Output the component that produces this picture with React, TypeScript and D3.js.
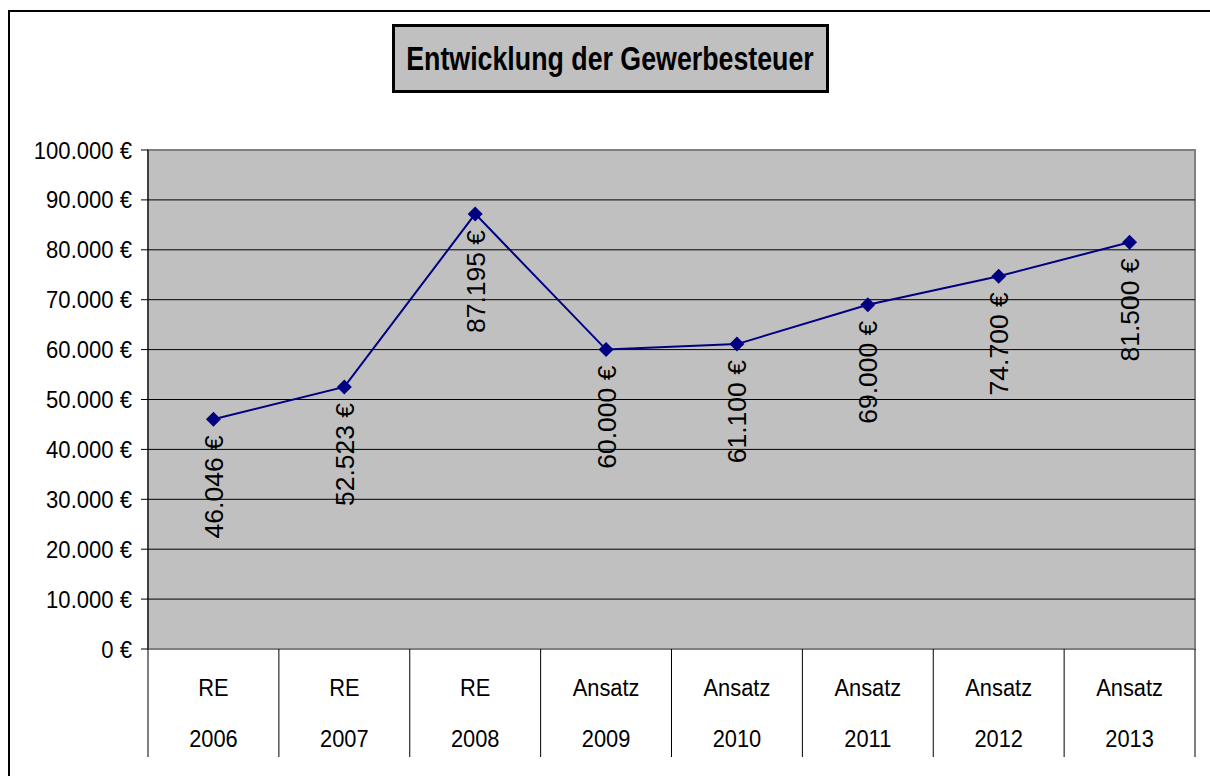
import React from "react";
import * as d3 from "d3";

const categoriesTop = ["RE", "RE", "RE", "Ansatz", "Ansatz", "Ansatz", "Ansatz", "Ansatz"];
const categoriesYear = ["2006", "2007", "2008", "2009", "2010", "2011", "2012", "2013"];
const values = [46046, 52523, 87195, 60000, 61100, 69000, 74700, 81500];
const yTicks = [0, 10000, 20000, 30000, 40000, 50000, 60000, 70000, 80000, 90000, 100000];
const titleText = "Entwicklung der Gewerbesteuer";

const W = 1210;
const H = 776;
const plot = { left: 148, right: 1195, top: 150, bottom: 649 };
const FONT = "'Liberation Sans', Arial, Helvetica, sans-serif";
const NAVY = "#000080";

const de = d3.formatLocale({ decimal: ",", thousands: ".", grouping: [3], currency: ["", " €"] });
const fmt = (v: number) => de.format(",.0f")(v) + " €";

export default function App() {
  const keys = categoriesYear.map((y, i) => `${categoriesTop[i]} ${y}`);
  const x = d3.scaleBand<string>().domain(keys).range([plot.left, plot.right]).padding(0);
  const y = d3.scaleLinear().domain([0, 100000]).range([plot.bottom, plot.top]);
  const cx = (i: number) => (x(keys[i]) as number) + x.bandwidth() / 2;

  const line = d3
    .line<number>()
    .x((_, i) => cx(i))
    .y((d) => y(d));

  const boundaries = keys.map((k) => x(k) as number).concat([plot.right]);
  const diamond = "M0,-7.5L7.5,0L0,7.5L-7.5,0Z";

  return (
    <svg
      width={W}
      height={H}
      style={{ position: "absolute", left: 0, top: 0, background: "#fff" }}
      fontFamily={FONT}
    >
      {/* outer chart border */}
      <rect x={9} y={11} width={1400} height={1000} fill="#fff" stroke="#000" strokeWidth={2} />

      {/* title box */}
      <rect x={393.5} y={25.5} width={434} height={66} fill="#c0c0c0" stroke="#000" strokeWidth={3} />
      <g transform={`translate(610,70) scale(0.85,1.05)`}>
        <text textAnchor="middle" fontSize={31.5} fontWeight="bold" fill="#000">
          {titleText}
        </text>
      </g>

      {/* plot area */}
      <rect
        x={plot.left}
        y={plot.top}
        width={plot.right - plot.left}
        height={plot.bottom - plot.top}
        fill="#c0c0c0"
        stroke="#808080"
        strokeWidth={2}
      />

      {/* gridlines */}
      {yTicks
        .filter((t) => t > 0 && t < 100000)
        .map((t) => (
          <line key={"g" + t} x1={plot.left} x2={plot.right} y1={y(t)} y2={y(t)} stroke="#000" strokeWidth={1} />
        ))}

      {/* y axis */}
      <line x1={plot.left} x2={plot.left} y1={plot.top} y2={plot.bottom} stroke="#000" strokeWidth={1} />
      {yTicks.map((t) => (
        <g key={"t" + t}>
          <line x1={141} x2={plot.left} y1={y(t)} y2={y(t)} stroke="#000" strokeWidth={1} />
          <g transform={`translate(132,${y(t) + 8.5}) scale(0.96,1.05)`}>
            <text textAnchor="end" fontSize={23} fill="#000">
              {fmt(t)}
            </text>
          </g>
        </g>
      ))}

      {/* category separators */}
      {boundaries.map((b, i) => (
        <line key={"s" + i} x1={b} x2={b} y1={plot.bottom} y2={757} stroke="#000" strokeWidth={1} />
      ))}

      {/* category labels */}
      {keys.map((k, i) => (
        <g key={"c" + i}>
          <g transform={`translate(${cx(i)},696) scale(0.93,1.05)`}>
            <text textAnchor="middle" fontSize={23.5} fill="#000">
              {categoriesTop[i]}
            </text>
          </g>
          <g transform={`translate(${cx(i)},747) scale(0.93,1.05)`}>
            <text textAnchor="middle" fontSize={23.5} fill="#000">
              {categoriesYear[i]}
            </text>
          </g>
        </g>
      ))}

      {/* series line */}
      <path d={line(values) || ""} fill="none" stroke={NAVY} strokeWidth={2} />
      {values.map((v, i) => (
        <path key={"m" + i} d={diamond} transform={`translate(${cx(i)},${y(v)})`} fill={NAVY} />
      ))}

      {/* data labels */}
      {values.map((v, i) => (
        <g key={"l" + i} transform={`translate(${cx(i)},${y(v) + 16}) rotate(-90)`}>
          <text textAnchor="end" dy="0.36em" fontSize={26.5} fill="#000">
            {fmt(v)}
          </text>
        </g>
      ))}
    </svg>
  );
}
